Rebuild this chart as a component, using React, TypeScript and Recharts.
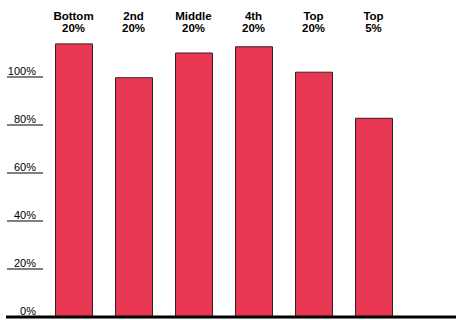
import { BarChart, Bar, XAxis, YAxis, ReferenceLine } from "recharts";

// income groups and their share values (percent)
const groupTop = ["Bottom", "2nd", "Middle", "4th", "Top", "Top"];
const groupBottom = ["20%", "20%", "20%", "20%", "20%", "5%"];
const shares = [113.8, 99.7, 110, 112.6, 102, 82.8];
const yTicks = [0, 20, 40, 60, 80, 100];

const data = groupTop.map((g, i) => ({
  key: `${g} ${groupBottom[i]}`,
  top: g,
  bottom: groupBottom[i],
  value: shares[i],
}));

const FONT = "'Liberation Sans', Arial, Helvetica, sans-serif";

function GroupTick(props: any) {
  const { x, y, payload, index } = props;
  const row = data[index] || data.find((d) => d.key === payload.value);
  return (
    <g>
      <text
        x={x}
        y={y - 9}
        textAnchor="middle"
        fontFamily={FONT}
        fontWeight="bold"
        fontSize={11.5}
        fill="#000"
      >
        {row?.top}
      </text>
      <text
        x={x}
        y={y + 3}
        textAnchor="middle"
        fontFamily={FONT}
        fontWeight="bold"
        fontSize={11.5}
        fill="#000"
      >
        {row?.bottom}
      </text>
    </g>
  );
}

function PctTick(props: any) {
  const { y, payload } = props;
  const left = 7;
  return (
    <g>
      {payload.value !== 0 && (
        <line x1={left} x2={left + 36} y1={y} y2={y} stroke="#000" strokeWidth={1} />
      )}
      <text
        x={left + 29}
        y={y - 2}
        textAnchor="end"
        fontFamily={FONT}
        fontSize={11}
        fill="#000"
      >
        {payload.value}%
      </text>
    </g>
  );
}

export default function App() {
  return (
    <div style={{ position: "absolute", left: 0, top: 0, background: "#fff" }}>
      <BarChart
        width={456}
        height={320}
        data={data}
        margin={{ top: 0, right: 0, bottom: 3, left: 0 }}
        barSize={37}
      >
        <XAxis
          dataKey="key"
          orientation="top"
          height={29}
          axisLine={false}
          tickLine={false}
          tickSize={0}
          tickMargin={0}
          interval={0}
          padding={{ left: 37.5, right: 52.5 }}
          tick={<GroupTick />}
        />
        <YAxis
          width={6}
          domain={[0, 120]}
          ticks={yTicks}
          axisLine={false}
          tickLine={false}
          tick={<PctTick />}
          interval={0}
        />
        <Bar
          dataKey="value"
          fill="#E83853"
          stroke="#3a1f24"
          strokeWidth={1}
          isAnimationActive={false}
        />
        <ReferenceLine y={0} stroke="#000" strokeWidth={3} />
      </BarChart>
    </div>
  );
}
